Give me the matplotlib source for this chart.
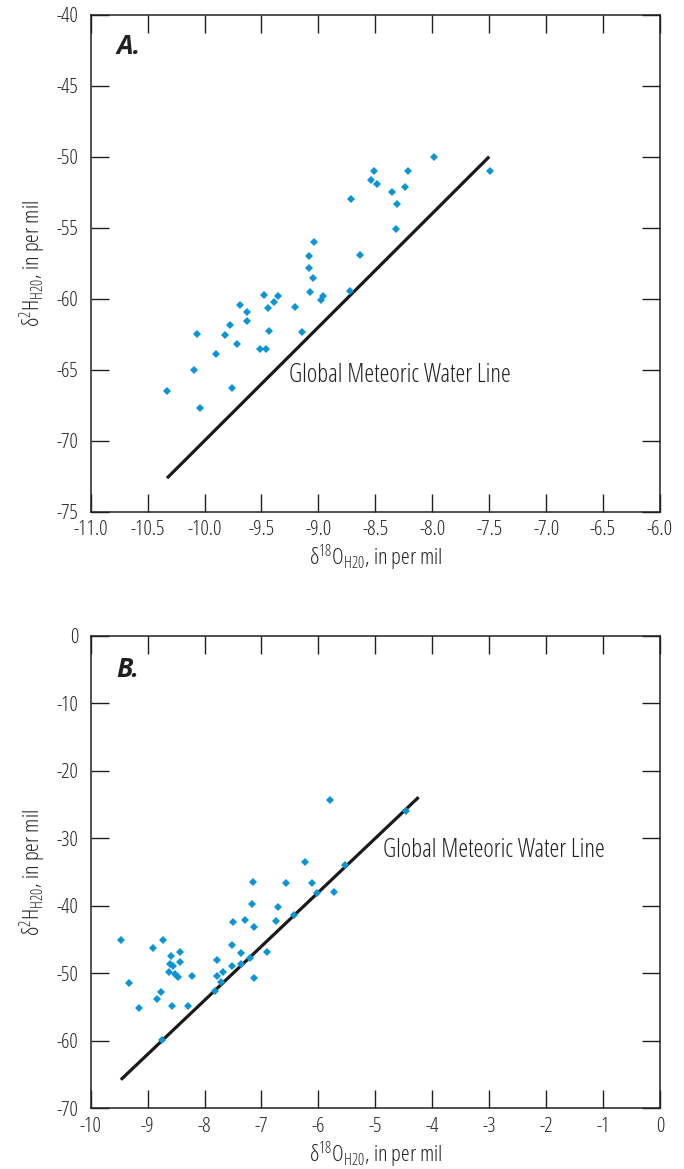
import matplotlib
matplotlib.use("Agg")
import matplotlib.pyplot as plt
from matplotlib import font_manager

# fonte estreita parecida com a do original (Univers Condensed)
fontes = font_manager.fontManager.ttflist
fonte, largura = "Roboto", "normal"
if any(f.name == "Liberation Sans Narrow" for f in fontes):
    fonte = "Liberation Sans Narrow"
else:
    for nome in ["Roboto", "Noto Sans", "Open Sans", "DejaVu Sans"]:
        if any(f.name == nome and str(f.stretch) in ("condensed", "semi-condensed") for f in fontes):
            fonte, largura = nome, "condensed"
            break
plt.rcParams["font.family"] = [fonte, "DejaVu Sans"]
plt.rcParams["font.stretch"] = largura
plt.rcParams["mathtext.fontset"] = "custom"
plt.rcParams["mathtext.rm"] = fonte
plt.rcParams["mathtext.it"] = fonte + ":italic"
plt.rcParams["axes.unicode_minus"] = False

# --- Painel A ---
a_o18 = [-10.33, -10.095, -10.04, -10.069, -9.899, -9.82, -9.773, -9.761, -9.712, -9.691,
         -9.629, -9.629, -9.512, -9.46, -9.48, -9.442, -9.431, -9.389, -9.351, -9.202,
         -9.141, -9.079, -9.04, -9.079, -9.049, -9.07, -8.959, -8.979, -8.721, -8.713,
         -8.631, -8.534, -8.511, -8.482, -8.35, -8.311, -8.32, -8.241, -8.212, -7.981,
         -7.491]
a_h2 = [-66.5, -65.02, -67.72, -62.49, -63.92, -62.54, -61.83, -66.27, -63.19, -60.46,
        -60.94, -61.55, -63.52, -63.52, -59.76, -60.68, -62.3, -60.25, -59.83, -60.56,
        -62.35, -56.97, -55.99, -57.82, -58.52, -59.51, -59.83, -60.09, -59.46, -52.98,
        -56.94, -51.66, -51.03, -51.94, -52.46, -53.31, -55.07, -52.11, -51.03, -50.0,
        -51.03]
a_gmwl_x = [-10.33, -7.5]
a_gmwl_y = [-72.64, -50.0]
a_xticks = [-11.0, -10.5, -10.0, -9.5, -9.0, -8.5, -8.0, -7.5, -7.0, -6.5, -6.0]
a_yticks = [-75, -70, -65, -60, -55, -50, -45, -40]

# --- Painel B ---
b_o18 = [-9.467, -9.321, -9.156, -8.905, -8.724, -8.829, -8.759, -8.752, -8.594, -8.436,
         -8.606, -8.554, -8.431, -8.624, -8.513, -8.466, -8.571, -8.295, -8.225, -7.81,
         -7.78, -7.78, -7.705, -7.675, -7.522, -7.511, -7.504, -7.359, -7.364, -7.288,
         -7.206, -7.171, -7.142, -7.125, -7.13, -6.896, -6.749, -6.708, -6.562, -6.432,
         -6.229, -6.116, -6.018, -5.789, -5.719, -5.531, -4.459]
b_h2 = [-45.03, -51.49, -55.1, -46.31, -45.03, -53.81, -52.78, -59.84, -47.49, -46.9,
        -48.58, -48.93, -48.38, -49.86, -50.11, -50.56, -54.81, -54.81, -50.41, -52.63,
        -47.99, -50.41, -51.34, -49.86, -48.93, -45.82, -42.41, -47.0, -48.68, -42.11,
        -47.79, -39.7, -36.53, -43.1, -50.7, -46.81, -42.31, -40.14, -36.68, -41.42,
        -33.57, -36.59, -38.11, -24.38, -38.01, -34.01, -25.92]
b_gmwl_x = [-9.47, -4.24]
b_gmwl_y = [-65.76, -23.92]
b_xticks = [-10, -9, -8, -7, -6, -5, -4, -3, -2, -1, 0]
b_yticks = [-70, -60, -50, -40, -30, -20, -10, 0]

azul = "#0a96d6"
preto = "#231f20"
xlabel = "δ$^{18}$O$_{\\mathrm{H20}}$, in per mil"
ylabel = "δ$^{2}$H$_{\\mathrm{H20}}$, in per mil"

fig = plt.figure(figsize=(6.84, 11.69), dpi=100)
axA = fig.add_axes([0.1326, 0.5623, 0.8323, 0.4251])
axB = fig.add_axes([0.1326, 0.0519, 0.8323, 0.4043])

paineis = [
    (axA, a_o18, a_h2, a_gmwl_x, a_gmwl_y, a_xticks, a_yticks, "A.", 0.937, (-9.257, -65.44), "{:.1f}"),
    (axB, b_o18, b_h2, b_gmwl_x, b_gmwl_y, b_xticks, b_yticks, "B.", 0.928, (-4.863, -31.74), "{:d}"),
]

for ax, xs, ys, lx, ly, xt, yt, letra, ly_letra, pos_txt, fmt in paineis:
    ax.plot(lx, ly, color="#1a1a1a", linewidth=2.3, solid_capstyle="butt", zorder=2)
    ax.plot(xs, ys, linestyle="none", marker="D", markersize=3.9, color=azul,
            markeredgewidth=0, zorder=3)
    ax.set_xlim(xt[0], xt[-1])
    ax.set_ylim(yt[0], yt[-1])
    ax.set_xticks(xt)
    ax.set_yticks(yt)
    ax.set_xticklabels([fmt.format(v) for v in xt])
    ax.set_yticklabels([str(v) for v in yt])
    ax.tick_params(direction="in", length=13, width=1.0, color=preto, top=True, right=True,
                   labelsize=15, labelcolor=preto)
    ax.tick_params(axis="x", pad=6)
    ax.tick_params(axis="y", pad=9)
    for s in ax.spines.values():
        s.set_linewidth(1.1)
        s.set_color(preto)
    ax.set_xlabel(xlabel, fontsize=16, color=preto, labelpad=2)
    ax.set_ylabel(ylabel, fontsize=16, color=preto, labelpad=6)
    ax.text(0.045, ly_letra, letra, transform=ax.transAxes, fontsize=19,
            fontweight="bold", fontstyle="italic", color=preto, va="center", ha="left")
    ax.text(pos_txt[0], pos_txt[1], "Global Meteoric Water Line", fontsize=18,
            color=preto, va="center", ha="left")

fig.savefig("out.png", dpi=100)
